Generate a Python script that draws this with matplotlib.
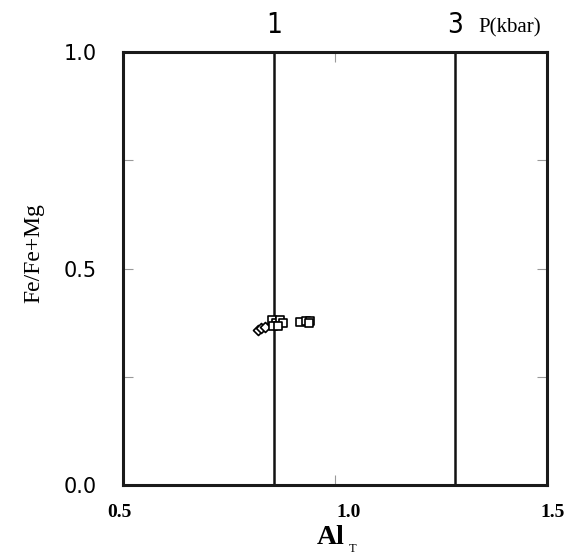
import matplotlib.pyplot as plt
from matplotlib.ticker import FixedLocator
from matplotlib.transforms import ScaledTranslation

# Al_T vs Fe/(Fe+Mg) for amphiboles
diamond_x = [0.818, 0.826, 0.834]
diamond_y = [0.358, 0.362, 0.366]
square_x = [0.851, 0.861, 0.870, 0.877, 0.853, 0.866, 0.917, 0.932, 0.941, 0.938]
square_y = [0.381, 0.374, 0.381, 0.374, 0.367, 0.367, 0.376, 0.378, 0.378, 0.374]

# isobars (kbar) at Al_T positions
isobar_labels = ['1', '3']
isobar_x = [0.856, 1.283]

xtick_vals = [0.5, 1.0, 1.5]
xtick_labels = ['0.5', '1.0', '1.5']
xtick_shift = [-4, 14, 5]  # px, the printed labels sit off their ticks
ytick_vals = [0.0, 0.5, 1.0]
ytick_labels = ['0.0', '0.5', '1.0']

fig = plt.figure(figsize=(5.67, 5.56), dpi=100)
ax = fig.add_axes([0.217, 0.128, 0.748, 0.778])

ax.set_xlim(0.5, 1.5)
ax.set_ylim(0.0, 1.0)

for lab, xv in zip(isobar_labels, isobar_x):
    ax.axvline(xv, color='#111111', lw=1.8)
    ax.text(xv, 1.03, lab, ha='center', va='bottom', fontsize=20,
            family='DejaVu Sans', fontstretch='condensed',
            transform=ax.get_xaxis_transform())
ax.text(1.337, 1.035, 'P(kbar)', ha='left', va='bottom', fontsize=15,
        family='Liberation Serif', transform=ax.get_xaxis_transform())

ax.scatter(diamond_x, diamond_y, marker='D', s=26, facecolor='white',
           edgecolor='black', linewidth=1.2, zorder=3)
ax.scatter(square_x, square_y, marker='s', s=34, facecolor='white',
           edgecolor='black', linewidth=1.2, zorder=3)

for sp in ax.spines.values():
    sp.set_linewidth(2.2)
    sp.set_color('#1a1a1a')

ax.set_xticks(xtick_vals)
ax.set_xticklabels([])
for v, lab, dx in zip(xtick_vals, xtick_labels, xtick_shift):
    tr = ax.get_xaxis_transform() + ScaledTranslation(dx / 100, 0, fig.dpi_scale_trans)
    ax.text(v, -0.045, lab, ha='center', va='top', family='Liberation Serif',
            fontweight='bold', fontsize=14, transform=tr, clip_on=False)
ax.set_yticks(ytick_vals)
ax.set_yticklabels(ytick_labels, family='DejaVu Sans', fontsize=15)
ax.yaxis.set_minor_locator(FixedLocator([0.25, 0.75]))
ax.tick_params(axis='x', direction='in', length=7, width=0.8, color='#999999',
               top=True)
ax.tick_params(axis='y', which='both', direction='in', length=7, width=0.8,
               color='#999999', right=True, pad=19)

ax.set_xlabel('Al', family='Liberation Serif', fontsize=20, fontweight='bold')
ax.xaxis.set_label_coords(0.49, -0.093)
fig.text(0.621, 0.002, 'T', family='Liberation Serif', fontsize=9,
         ha='center', va='bottom')
ax.set_ylabel('Fe/Fe+Mg', family='Liberation Serif', fontsize=17)
ax.yaxis.set_label_coords(-0.185, 0.535)

fig.savefig('out.png', dpi=100)
